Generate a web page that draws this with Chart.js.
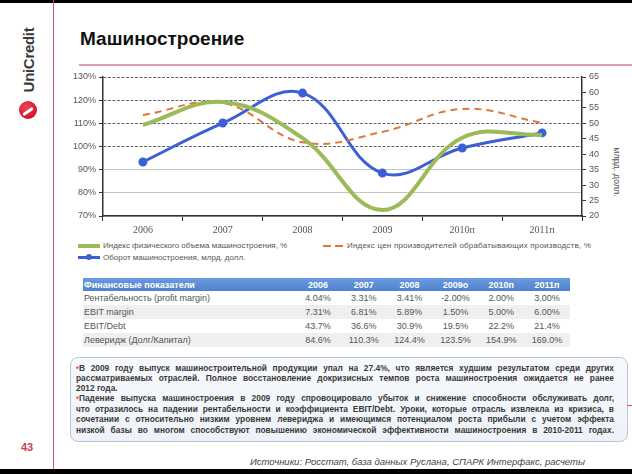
<!DOCTYPE html>
<html lang="ru">
<head>
<meta charset="utf-8">
<title>Машиностроение</title>
<script src="https://cdn.jsdelivr.net/npm/chart.js@4.4.1/dist/chart.umd.min.js"></script>
<style>
  html, body { margin: 0; padding: 0; }
  body { width: 632px; height: 474px; position: relative; overflow: hidden; background: #fff;
         font-family: 'Liberation Sans', Arial, sans-serif; }
  .abs { position: absolute; }
  .bar-top { left: 0; top: 0; width: 632px; height: 3px; background: #000; }
  .bar-bot { left: 0; top: 469px; width: 632px; height: 5px; background: #000; }
  .vline { left: 53px; top: 0; width: 1px; height: 474px; background: #c8566e; }
  .logo-text { left: 28px; top: 60px; transform: translate(-50%, -50%) rotate(-90deg);
               font-weight: bold; font-size: 15px; color: #3a3a3a; white-space: nowrap; letter-spacing: -0.3px; }
  .logo-mark { left: 19px; top: 101px; width: 18px; height: 18px; border-radius: 50%;
               background: radial-gradient(circle at 40% 35%, #f0454f, #c8001a); overflow: hidden; }
  .logo-mark::after { content: ''; position: absolute; left: 3px; top: 9px; width: 12px; height: 3px;
               background: #fff; transform: rotate(-35deg); border-radius: 2px; }
  .title { left: 80px; top: 28px; font-size: 19px; font-weight: bold; color: #111; }
  .title-line { left: 79px; top: 64px; width: 553px; height: 2px; background: #d9a0ab; }
  .page { left: 21px; top: 441px; font-size: 11px; font-weight: bold; color: #d03a55; }
  #wrap { left: 60px; top: 68px; width: 550px; height: 166px; }
  .axis-title { left: 617px; top: 172px; transform: translate(-50%, -50%) rotate(90deg);
                font-size: 9px; color: #555; white-space: nowrap; }
  .leg { font-size: 8px; color: #555; white-space: nowrap; }
  .sw { height: 3px; }
  table { border-collapse: collapse; font-size: 9px; color: #555; table-layout: fixed; }
  td, th { padding: 0; height: 14px; text-align: center; white-space: nowrap; }
  th { height: 13px; background: linear-gradient(#6a9ae0, #4f82cc); color: #fff; font-weight: bold; }
  td.lbl, th.lbl { text-align: left; padding-left: 1px; }
  tr.alt td { background: #efefef; }
  .box { left: 70px; top: 357px; width: 556px; height: 83px; border: 1px solid #b8c5d8; border-radius: 8px;
         background: linear-gradient(#f7f9fc, #eef2f8); }
  .txt { position: absolute; left: 5px; width: 538px; font-size: 8.4px; font-weight: bold; color: #3a3a3a;
         line-height: 10px; white-space: nowrap; text-align: justify; text-align-last: justify; }
  .txt.nj { text-align-last: left; }
  .bul { color: #e04a55; }
  .foot { left: 250px; top: 456px; font-size: 9.5px; font-style: italic; color: #444; white-space: nowrap; }
  .redtick { left: 627px; top: 405px; width: 5px; height: 1px; background: #c8566e; }
</style>
</head>
<body>
<div class="abs bar-top"></div>
<div class="abs vline"></div>
<div class="abs logo-text">UniCredit</div>
<div class="abs logo-mark"></div>
<div class="abs title">Машиностроение</div>
<div class="abs title-line"></div>

<div class="abs" id="wrap"><canvas id="chart" width="550" height="166"></canvas></div>
<div class="abs axis-title">млрд. долл.</div>

<div class="abs sw" style="left:78px;top:244px;width:22px;height:4px;background:#9bbb59;"></div>
<div class="abs leg" style="left:103px;top:241px;">Индекс физического объема машиностроения, %</div>
<div class="abs sw" style="left:323px;top:245px;width:8px;height:2px;background:#e0783c;"></div>
<div class="abs sw" style="left:335px;top:245px;width:8px;height:2px;background:#e0783c;"></div>
<div class="abs leg" style="left:347px;top:241px;letter-spacing:0.2px;">Индекс цен производителей обрабатывающих производств, %</div>
<div class="abs sw" style="left:78px;top:256px;width:22px;height:3px;background:#3b5fd6;"></div>
<div class="abs" style="left:86px;top:254px;width:6px;height:6px;border-radius:50%;background:#3b5fd6;"></div>
<div class="abs leg" style="left:103px;top:253px;">Оборот машиностроения, млрд. долл.</div>

<table class="abs" id="fin" style="left:83px;top:278px;width:487px;">
  <colgroup><col style="width:212px"></colgroup>
  <thead></thead>
  <tbody></tbody>
</table>

<div class="abs box">
  <div class="txt" style="top:5px;"><span class="bul">•</span>В 2009 году выпуск машиностроительной продукции упал на 27.4%, что является худшим результатом среди других</div>
  <div class="txt" style="top:15px;">рассматриваемых отраслей. Полное восстановление докризисных темпов роста машиностроения ожидается не ранее</div>
  <div class="txt nj" style="top:25px;">2012 года.</div>
  <div class="txt" style="top:35px;"><span class="bul">•</span>Падение выпуска машиностроения в 2009 году спровоцировало убыток и снижение способности обслуживать долг,</div>
  <div class="txt" style="top:46px;">что отразилось на падении рентабельности и коэффициента EBIT/Debt. Уроки, которые отрасль извлекла из кризиса, в</div>
  <div class="txt" style="top:56px;">сочетании с относительно низким уровнем левериджа и имеющимся потенциалом роста прибыли с учетом эффекта</div>
  <div class="txt" style="top:67px;">низкой базы во многом способствуют повышению экономической эффективности машиностроения в 2010-2011 годах.</div>
</div>
<div class="abs redtick"></div>

<div class="abs page">43</div>
<div class="abs foot">Источники: Росстат, база данных Руслана, СПАРК Интерфакс, расчеты</div>
<div class="abs bar-bot"></div>

<script>
// chart data
const years = ['2006', '2007', '2008', '2009', '2010п', '2011п'];
const physVolume = [109.3, 119.2, 103.6, 72.6, 103.8, 105.0];   // %
const priceIndex = [113.6, 118.8, 101.8, 106.3, 116.2, 110.2];  // %
const turnover = [37.5, 50.1, 59.8, 33.9, 42.0, 46.9];          // млрд. долл.
const leftTicks = [70, 130, 10];
const rightTicks = [20, 65, 5];

// table data
const tableHeads = ['Финансовые показатели', '2006', '2007', '2008', '2009о', '2010п', '2011п'];
const tableRows = [
    ['Рентабельность (profit margin)', '4.04%', '3.31%', '3.41%', '-2.00%', '2.00%', '3.00%'],
    ['EBIT margin', '7.31%', '6.81%', '5.89%', '1.50%', '5.00%', '6.00%'],
    ['EBIT/Debt', '43.7%', '36.6%', '30.9%', '19.5%', '22.2%', '21.4%'],
    ['Леверидж (Долг/Капитал)', '84.6%', '110.3%', '124.4%', '123.5%', '154.9%', '169.0%']
];

document.addEventListener('DOMContentLoaded', function () {
    // TABLE
    const fin = document.getElementById('fin');
    fin.querySelector('thead').innerHTML = '<tr>' + tableHeads.map((h, i) =>
        `<th${i === 0 ? ' class="lbl"' : ''}>${h}</th>`).join('') + '</tr>';
    fin.querySelector('tbody').innerHTML = tableRows.map((r, k) =>
        `<tr${k % 2 ? ' class="alt"' : ''}>` + r.map((c, i) =>
            `<td${i === 0 ? ' class="lbl"' : ''}>${c}</td>`).join('') + '</tr>').join('');

    // CHART
    Chart.defaults.font.family = "'Liberation Sans', Arial, sans-serif";
    Chart.defaults.color = '#555';

    new Chart(document.getElementById('chart'), {
        type: 'line',
        data: {
            labels: years,
            datasets: [{
                label: 'Индекс физического объема машиностроения, %',
                data: physVolume,
                yAxisID: 'y',
                borderColor: '#9bbb59',
                borderWidth: 4,
                pointRadius: 0,
                tension: 0.4
            }, {
                label: 'Индекс цен производителей обрабатывающих производств, %',
                data: priceIndex,
                yAxisID: 'y',
                borderColor: '#e0783c',
                borderWidth: 2,
                borderDash: [7, 5],
                pointRadius: 0,
                tension: 0.4
            }, {
                label: 'Оборот машиностроения, млрд. долл.',
                data: turnover,
                yAxisID: 'y1',
                borderColor: '#3b5fd6',
                backgroundColor: '#3b5fd6',
                borderWidth: 3,
                pointRadius: 3,
                tension: 0.4
            }]
        },
        options: {
            responsive: false,
            animation: false,
            layout: { padding: { top: 9 } },
            plugins: { legend: { display: false }, tooltip: { enabled: false } },
            scales: {
                x: {
                    offset: true,
                    grid: { offset: true, drawOnChartArea: false, tickLength: 5, tickColor: '#333' },
                    border: { color: '#333', width: 1.5 },
                    ticks: { font: { family: "'Liberation Serif', serif", size: 10 }, color: '#555', padding: 3, maxRotation: 0 },
                    afterFit: s => { s.height = 18; }
                },
                y: {
                    position: 'left',
                    min: leftTicks[0], max: leftTicks[1],
                    ticks: { stepSize: leftTicks[2], callback: v => v + '%', font: { size: 9 }, color: '#555', padding: 3 },
                    grid: {
                        tickLength: 4, tickColor: '#333',
                        color: c => c.tick && c.tick.value >= 100 ? '#666' : '#c4c4c4'
                    },
                    border: {
                        color: '#333', width: 1.5,
                        dash: c => c.tick && c.tick.value >= 100 ? [3, 1.5] : []
                    },
                    afterFit: s => { s.width = 43; }
                },
                y1: {
                    position: 'right',
                    min: rightTicks[0], max: rightTicks[1],
                    ticks: { stepSize: rightTicks[2], font: { size: 9 }, color: '#555', padding: 3 },
                    grid: { drawOnChartArea: false, tickLength: 4, tickColor: '#333' },
                    border: { color: '#333', width: 1.5 },
                    afterFit: s => { s.width = 28; }
                }
            }
        }
    });
});
</script>
</body>
</html>
